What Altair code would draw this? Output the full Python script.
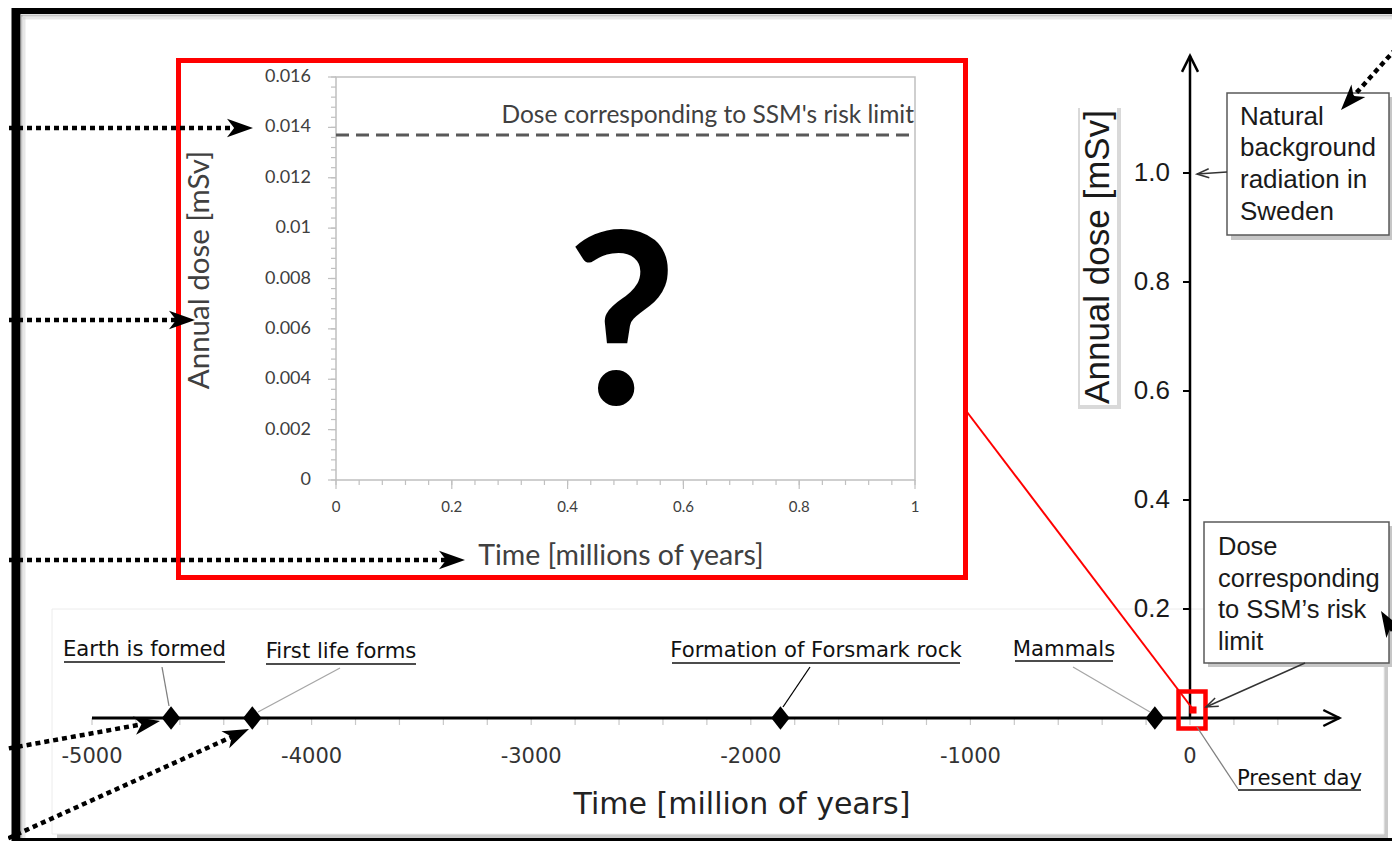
import math
import altair as alt
import pandas as pd

# ---------------- chart values ----------------
EVENT_NAMES = ["Earth is formed", "First life forms", "Formation of Forsmark rock", "Mammals"]
EVENT_TIMES = [-4640, -4270, -1865, -160]          # million years
TIME_TICKS = [-5000, -4000, -3000, -2000, -1000, 0]
TIME_TICK_LABELS = ["-5000", "-4000", "-3000", "-2000", "-1000", "0"]
TIME_MINOR_STEP = 200
DOSE_TICKS = [0.2, 0.4, 0.6, 0.8, 1.0]
DOSE_TICK_LABELS = ["0.2", "0.4", "0.6", "0.8", "1.0"]
BACKGROUND_DOSE = 1.0                              # mSv, natural background in Sweden
RISK_LIMIT = 0.0137                                # mSv, SSM risk limit
INSET_DOSE_TICKS = [0.0, 0.002, 0.004, 0.006, 0.008, 0.010, 0.012, 0.014, 0.016]
INSET_DOSE_LABELS = ["0", "0.002", "0.004", "0.006", "0.008", "0.01", "0.012", "0.014", "0.016"]
INSET_DOSE_MINOR_STEP = 0.0004
INSET_TIME_TICKS = [0.0, 0.2, 0.4, 0.6, 0.8, 1.0]
INSET_TIME_LABELS = ["0", "0.2", "0.4", "0.6", "0.8", "1"]
INSET_TIME_MINOR_STEP = 0.04
MAIN_X_AXIS_END = 680
MAIN_Y_AXIS_END = 1.215

# ---------------- page geometry ----------------
OFF = 8
W, H = 1384, 833
MAIN_X_O, MAIN_X_K = 1190, 0.2196
MAIN_Y_O, MAIN_Y_K = 718, 545
INS_X_O, INS_X_K = 336, 579
INS_Y_O, INS_Y_K = 480, 403 / 0.016


def xscale(o, k):
    return alt.Scale(domain=[(OFF - o) / k, (OFF + W - o) / k], nice=False, zero=False)


def yscale(o, k):
    return alt.Scale(domain=[(o - OFF - H) / k, (o - OFF) / k], nice=False, zero=False)


LX = alt.Scale(domain=[OFF, OFF + W], nice=False, zero=False)
LY = alt.Scale(domain=[OFF, OFF + H], nice=False, zero=False, reverse=True)
MX, MY = xscale(MAIN_X_O, MAIN_X_K), yscale(MAIN_Y_O, MAIN_Y_K)
IX, IY = xscale(INS_X_O, INS_X_K), yscale(INS_Y_O, INS_Y_K)


def rules(rows, sx, sy, **kw):
    df = pd.DataFrame(rows, columns=["x", "y", "x2", "y2"])
    return alt.Chart(df).mark_rule(**kw).encode(
        x=alt.X("x:Q", scale=sx, axis=None), y=alt.Y("y:Q", scale=sy, axis=None),
        x2=alt.X2("x2"), y2=alt.Y2("y2"))


def rects(rows, sx, sy, **kw):
    df = pd.DataFrame(rows, columns=["x", "y", "x2", "y2"])
    return alt.Chart(df).mark_rect(**kw).encode(
        x=alt.X("x:Q", scale=sx, axis=None), y=alt.Y("y:Q", scale=sy, axis=None),
        x2=alt.X2("x2"), y2=alt.Y2("y2"))


def texts(xs, ys, ts, sx, sy, **kw):
    df = pd.DataFrame({"x": xs, "y": ys, "t": ts})
    return alt.Chart(df).mark_text(**kw).encode(
        x=alt.X("x:Q", scale=sx, axis=None), y=alt.Y("y:Q", scale=sy, axis=None),
        text=alt.Text("t:N"))


def points(xs, ys, angs, sx, sy, **kw):
    df = pd.DataFrame({"x": xs, "y": ys, "a": angs})
    return alt.Chart(df).mark_point(**kw).encode(
        x=alt.X("x:Q", scale=sx, axis=None), y=alt.Y("y:Q", scale=sy, axis=None),
        angle=alt.Angle("a:Q", scale=None))


STEALTH = "M1,0 L-1,-0.72 L-0.45,0 L-1,0.72 Z"
CHEVRON = "M-1,-1 L1,0 L-1,1"
THIN_CHEVRON = "M-1,-0.75 L1,0 L-1,0.75"
DIAMOND = "M0,-1 L0.78,0 L0,1 L-0.78,0 Z"


def arrow_geom(tail, tip, head_len, back):
    dx, dy = tip[0] - tail[0], tip[1] - tail[1]
    L = math.hypot(dx, dy)
    ux, uy = dx / L, dy / L
    ang = math.degrees(math.atan2(dy, dx)) % 360
    center = (tip[0] - ux * head_len / 2, tip[1] - uy * head_len / 2)
    end = (tip[0] - ux * back, tip[1] - uy * back)
    return ang, center, end


# ---------------- background (page layout) ----------------
bg = []
bg.append(rules([(12, 9.5, 1420, 9.5)], LX, LY, color="black", strokeWidth=9))
bg.append(rules([(12, 840, 1420, 840)], LX, LY, color="black", strokeWidth=4))
bg.append(rules([(16, 5, 16, 855)], LX, LY, color="black", strokeWidth=9))
bg.append(rules([(21, 15.5, 1420, 15.5), (21.5, 15, 21.5, 838)], LX, LY, color="#9a9a9a", strokeWidth=2, opacity=0.6))
bg.append(rules([(23, 18, 1420, 18), (24, 17, 24, 838)], LX, LY, color="#cfcfcf", strokeWidth=3, opacity=0.5))
# timeline panel with shadow
bg.append(rects([(57, 613, 1388, 838)], LX, LY, color="#c9c9c9"))
bg.append(rects([(52, 609, 1384, 834)], LX, LY, color="white", stroke="#ececec", strokeWidth=1))
# y-title plate
bg.append(rects([(1078, 108, 1121, 409)], LX, LY, color="#d9d9d9"))
bg.append(rects([(1080, 105, 1117, 405)], LX, LY, color="white"))
# annotation boxes
bg.append(rects([(1231, 97, 1392, 240), (1208, 526, 1392, 667)], LX, LY, color="#c6c6c6"))
bg.append(rects([(1227, 93, 1389, 235), (1204, 522, 1389, 663)], LX, LY, color="white",
                stroke="#595959", strokeWidth=1.5))
bg_layer = alt.layer(*bg)

# ---------------- main chart (time in Myr, dose in mSv) ----------------
mn = []
minor = [t for t in range(-5000, 401, TIME_MINOR_STEP)]
tick_len = 7 / MAIN_Y_K
mn.append(rules([(t, 0, t, -tick_len) for t in minor], MX, MY, color="#c8c8c8", strokeWidth=1.2))
mn.append(rules([(-5000, 0, MAIN_X_AXIS_END, 0)], MX, MY, color="black", strokeWidth=3))
mn.append(texts(TIME_TICKS, [0] * len(TIME_TICKS), TIME_TICK_LABELS, MX, MY, dy=39,
                font="DejaVu Sans", fontSize=21, color="#333333", baseline="middle", align="center"))
mn.append(rules([(0, 0, 0, MAIN_Y_AXIS_END)], MX, MY, color="black", strokeWidth=2.5))
ytl = 7 / MAIN_X_K
mn.append(rules([(-ytl, d, 0, d) for d in DOSE_TICKS], MX, MY, color="black", strokeWidth=2))
mn.append(texts([0] * len(DOSE_TICKS), DOSE_TICKS, DOSE_TICK_LABELS, MX, MY, dx=-20,
                font="Liberation Sans", fontSize=26, color="#1a1a1a", align="right", baseline="middle"))
mn.append(points([MAIN_X_AXIS_END], [0], [0], MX, MY, shape=CHEVRON, size=256, xOffset=-8,
                 filled=False, color="black", strokeWidth=2.5, opacity=1))
mn.append(points([0], [MAIN_Y_AXIS_END], [270], MX, MY, shape=CHEVRON, size=256, yOffset=8,
                 filled=False, color="black", strokeWidth=2.5, opacity=1))
mn.append(points(EVENT_TIMES, [0] * len(EVENT_TIMES), [0] * len(EVENT_TIMES), MX, MY, shape=DIAMOND,
                 size=560, filled=True, color="black", opacity=1))
main_layer = alt.layer(*mn)

# ---------------- inset (time 0-1 Myr, dose 0-0.016 mSv) ----------------
ins = []
ins.append(rects([(0, 0, 1, 0.016)], IX, IY, fillOpacity=0, stroke="#c0c0c0", strokeWidth=1.5))
n_dm = int(round(0.016 / INSET_DOSE_MINOR_STEP))
ins.append(rules([(-5 / INS_X_K, i * INSET_DOSE_MINOR_STEP, 0, i * INSET_DOSE_MINOR_STEP) for i in range(n_dm + 1)],
                 IX, IY, color="#c0c0c0", strokeWidth=1.2))
ins.append(rules([(-8 / INS_X_K, d, 0, d) for d in INSET_DOSE_TICKS], IX, IY, color="#c0c0c0", strokeWidth=1.2))
n_tm = int(round(1 / INSET_TIME_MINOR_STEP))
ins.append(rules([(i * INSET_TIME_MINOR_STEP, 0, i * INSET_TIME_MINOR_STEP, -5 / INS_Y_K) for i in range(n_tm + 1)],
                 IX, IY, color="#c0c0c0", strokeWidth=1.2))
ins.append(rules([(t, 0, t, -9 / INS_Y_K) for t in INSET_TIME_TICKS], IX, IY, color="#c0c0c0", strokeWidth=1.2))
ins.append(texts([0] * len(INSET_DOSE_TICKS), INSET_DOSE_TICKS, INSET_DOSE_LABELS, IX, IY, dx=-25,
                 font="Lato", fontSize=18, color="#404040", align="right", baseline="middle"))
ins.append(texts(INSET_TIME_TICKS, [0] * len(INSET_TIME_TICKS), INSET_TIME_LABELS, IX, IY, dy=27,
                 font="Lato", fontSize=15, color="#404040", align="center", baseline="middle"))
ins.append(rules([(0, RISK_LIMIT, 1, RISK_LIMIT)], IX, IY, color="#595959", strokeWidth=3, strokeDash=[13, 7]))
ins.append(texts([1], [RISK_LIMIT], ["Dose corresponding to SSM's risk limit"], IX, IY, dx=-1, dy=-19,
                 font="Lato", fontSize=24.5, color="#404040", align="right", baseline="middle"))
ins.append(texts([0.494], [0.003], ["?"], IX, IY, font="Lato", fontSize=240, fontWeight="bold",
                 color="black", align="center", baseline="alphabetic"))
inset_layer = alt.layer(*ins)

# ---------------- foreground annotations (page layout) ----------------
fg = []
fg.append(rects([(178.5, 60.5, 965.5, 577.5)], LX, LY, fillOpacity=0, stroke="#ff0000", strokeWidth=5))
fg.append(rules([(967, 412, 1192, 708)], LX, LY, color="#ff0000", strokeWidth=2))
fg.append(rects([(1178.5, 691.5, 1205.5, 728.5)], LX, LY, fillOpacity=0, stroke="#ff0000", strokeWidth=4.5))
fg.append(points([1193], [710], [0], LX, LY, shape="square", size=50, filled=True, color="#ff0000", opacity=1))

# titles
fg.append(texts([200], [270], ["Annual dose [mSv]"], LX, LY, angle=270, font="Lato", fontSize=29.5,
                color="#404040", align="center", baseline="middle"))
fg.append(texts([621], [556], ["Time [millions of years]"], LX, LY, font="Lato", fontSize=28.5,
                color="#404040", align="center", baseline="middle"))
fg.append(texts([742], [805], ["Time [million of years]"], LX, LY, font="DejaVu Sans", fontSize=30,
                color="#222222", align="center", baseline="middle"))
fg.append(texts([1098], [257], ["Annual dose [mSv]"], LX, LY, angle=270, font="Liberation Sans", fontSize=35,
                color="#1a1a1a", align="center", baseline="middle"))

# event labels, underlines, leaders
LABEL_CX = [144.5, 341, 816, 1064]
LABEL_CY = [650, 652, 651, 650]
UNDER = [(64, 225, 662), (266, 416, 664), (672, 960, 663), (1015, 1113, 661), (1238, 1361, 790)]
fg.append(texts(LABEL_CX + [1299.5], LABEL_CY + [779], EVENT_NAMES + ["Present day"], LX, LY,
                font="DejaVu Sans", fontSize=21.2, color="#111111", align="center", baseline="middle"))
fg.append(rules([(a, y, b, y) for a, b, y in UNDER], LX, LY, color="#111111", strokeWidth=1.5))
fg.append(rules([(162, 667, 169, 706), (1197, 727, 1238, 789)], LX, LY, color="#808080", strokeWidth=1.3))
fg.append(rules([(340, 668, 258, 712), (1073, 667, 1150, 712)], LX, LY, color="#a6a6a6", strokeWidth=1.3))
fg.append(rules([(810, 667, 783, 707)], LX, LY, color="black", strokeWidth=1.3))

# annotation box texts
fg.append(texts([1240] * 4, [117, 148, 180, 212], ["Natural", "background", "radiation in", "Sweden"], LX, LY,
                font="Liberation Sans", fontSize=26, color="#1a1a1a", align="left", baseline="middle"))
SSM_LINES = ["Dose", "corresponding", "to SSM\u2019s  risk", "limit"]
fg.append(texts([1218] * 4, [547, 579, 610, 642], SSM_LINES, LX, LY,
                font="Liberation Sans", fontSize=25.5, color="#1a1a1a", align="left", baseline="middle"))

# thin annotation arrows
THIN = [((1227, 172), (1197, 174)), ((1305, 663), (1206, 707))]
for tail, tip in THIN:
    ang, c, end = arrow_geom(tail, tip, 12, 0)
    fg.append(rules([(tail[0], tail[1], tip[0], tip[1])], LX, LY, color="#333333", strokeWidth=1.5))
    fg.append(points([c[0]], [c[1]], [ang], LX, LY, shape=THIN_CHEVRON, size=144, filled=False,
                     color="#333333", strokeWidth=1.5, opacity=1))

# dotted arrows entering from outside the crop
DOTTED = [((0, 128), (253, 128)), ((0, 320), (195, 320)), ((0, 560), (465, 560)),
          ((0, 750), (160, 721)), ((0, 842), (249, 729)), ((1402, 42), (1341, 110)),
          ((1402, 646), (1381, 611))]
for tail, tip in DOTTED:
    ang, c, end = arrow_geom(tail, tip, 26, 16)
    fg.append(rules([(tail[0], tail[1], end[0], end[1])], LX, LY, color="black", strokeWidth=4.5,
                    strokeDash=[5, 4]))
    fg.append(points([c[0]], [c[1]], [ang], LX, LY, shape=STEALTH, size=676, filled=True,
                     color="black", opacity=1))
fg_layer = alt.layer(*fg)

chart = alt.layer(bg_layer, main_layer, inset_layer, fg_layer).resolve_scale(
    x="independent", y="independent"
).properties(
    width=W, height=H, padding=0, background="white",
    autosize=alt.AutoSizeParams(type="none"),
).configure_view(stroke=None)

chart.save("out.html", embed_options={"renderer": "svg", "actions": False})
